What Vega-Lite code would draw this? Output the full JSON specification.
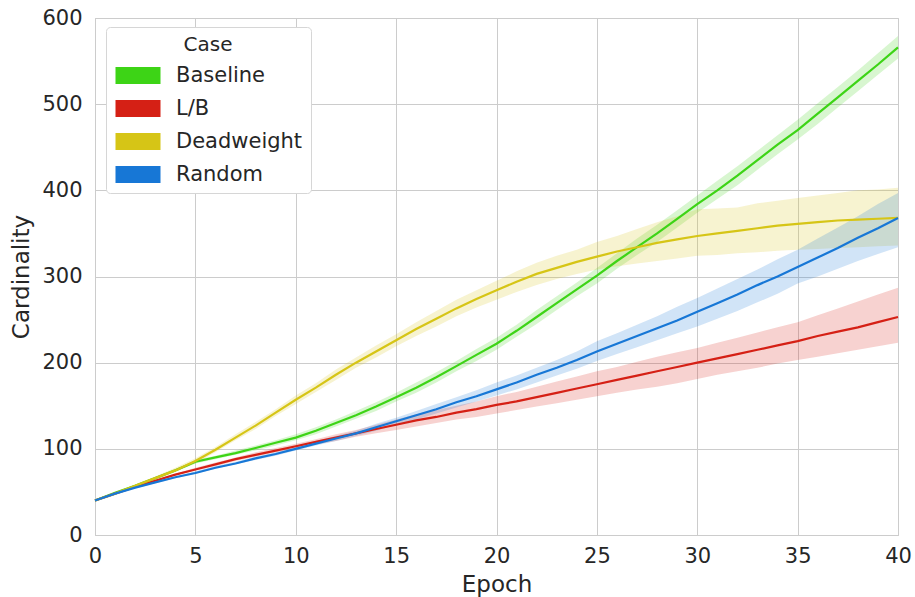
{
  "$schema": "https://vega.github.io/schema/vega-lite/v6.json",
  "width": 803,
  "height": 517,
  "autosize": {"type": "none"},
  "padding": {"left": 95, "top": 18, "right": 17, "bottom": 62},
  "background": "white",
  "config": {
    "font": "DejaVu Sans",
    "view": {"stroke": "#cccccc", "strokeWidth": 1},
    "axis": {
      "grid": true,
      "gridColor": "#cccccc",
      "gridWidth": 1,
      "domainColor": "#cccccc",
      "domainWidth": 1,
      "ticks": false,
      "labelColor": "#262626",
      "labelFontSize": 21,
      "titleColor": "#262626",
      "titleFontSize": 23,
      "titleFontWeight": "normal"
    }
  },
  "data": {
    "values": [
      {"case": "Baseline", "epoch": 0, "mean": 40, "lo": 40, "hi": 40},
      {"case": "Baseline", "epoch": 1, "mean": 49, "lo": 48, "hi": 50},
      {"case": "Baseline", "epoch": 2, "mean": 57, "lo": 56, "hi": 58},
      {"case": "Baseline", "epoch": 3, "mean": 66, "lo": 65, "hi": 67},
      {"case": "Baseline", "epoch": 4, "mean": 75, "lo": 74, "hi": 76},
      {"case": "Baseline", "epoch": 5, "mean": 85, "lo": 83, "hi": 87},
      {"case": "Baseline", "epoch": 6, "mean": 90, "lo": 88, "hi": 92},
      {"case": "Baseline", "epoch": 7, "mean": 95, "lo": 93, "hi": 98},
      {"case": "Baseline", "epoch": 8, "mean": 101, "lo": 98, "hi": 104},
      {"case": "Baseline", "epoch": 9, "mean": 107, "lo": 104, "hi": 110},
      {"case": "Baseline", "epoch": 10, "mean": 113, "lo": 110, "hi": 117},
      {"case": "Baseline", "epoch": 11, "mean": 121, "lo": 117, "hi": 125},
      {"case": "Baseline", "epoch": 12, "mean": 130, "lo": 126, "hi": 134},
      {"case": "Baseline", "epoch": 13, "mean": 139, "lo": 135, "hi": 144},
      {"case": "Baseline", "epoch": 14, "mean": 149, "lo": 144, "hi": 154},
      {"case": "Baseline", "epoch": 15, "mean": 160, "lo": 155, "hi": 165},
      {"case": "Baseline", "epoch": 16, "mean": 171, "lo": 165, "hi": 177},
      {"case": "Baseline", "epoch": 17, "mean": 183, "lo": 177, "hi": 189},
      {"case": "Baseline", "epoch": 18, "mean": 196, "lo": 190, "hi": 202},
      {"case": "Baseline", "epoch": 19, "mean": 209, "lo": 202, "hi": 216},
      {"case": "Baseline", "epoch": 20, "mean": 222, "lo": 215, "hi": 229},
      {"case": "Baseline", "epoch": 21, "mean": 237, "lo": 230, "hi": 244},
      {"case": "Baseline", "epoch": 22, "mean": 253, "lo": 245, "hi": 261},
      {"case": "Baseline", "epoch": 23, "mean": 269, "lo": 261, "hi": 277},
      {"case": "Baseline", "epoch": 24, "mean": 285, "lo": 277, "hi": 293},
      {"case": "Baseline", "epoch": 25, "mean": 301, "lo": 292, "hi": 310},
      {"case": "Baseline", "epoch": 26, "mean": 318, "lo": 309, "hi": 327},
      {"case": "Baseline", "epoch": 27, "mean": 334, "lo": 325, "hi": 344},
      {"case": "Baseline", "epoch": 28, "mean": 350, "lo": 340, "hi": 360},
      {"case": "Baseline", "epoch": 29, "mean": 367, "lo": 357, "hi": 377},
      {"case": "Baseline", "epoch": 30, "mean": 384, "lo": 374, "hi": 394},
      {"case": "Baseline", "epoch": 31, "mean": 400, "lo": 390, "hi": 411},
      {"case": "Baseline", "epoch": 32, "mean": 417, "lo": 406, "hi": 428},
      {"case": "Baseline", "epoch": 33, "mean": 435, "lo": 424, "hi": 446},
      {"case": "Baseline", "epoch": 34, "mean": 453, "lo": 442, "hi": 464},
      {"case": "Baseline", "epoch": 35, "mean": 470, "lo": 459, "hi": 482},
      {"case": "Baseline", "epoch": 36, "mean": 489, "lo": 477, "hi": 501},
      {"case": "Baseline", "epoch": 37, "mean": 508, "lo": 496, "hi": 520},
      {"case": "Baseline", "epoch": 38, "mean": 527, "lo": 515, "hi": 539},
      {"case": "Baseline", "epoch": 39, "mean": 546, "lo": 534, "hi": 559},
      {"case": "Baseline", "epoch": 40, "mean": 566, "lo": 553, "hi": 579},

      {"case": "L/B", "epoch": 0, "mean": 40, "lo": 40, "hi": 40},
      {"case": "L/B", "epoch": 1, "mean": 48, "lo": 47, "hi": 49},
      {"case": "L/B", "epoch": 2, "mean": 56, "lo": 55, "hi": 57},
      {"case": "L/B", "epoch": 3, "mean": 63, "lo": 62, "hi": 64},
      {"case": "L/B", "epoch": 4, "mean": 70, "lo": 69, "hi": 71},
      {"case": "L/B", "epoch": 5, "mean": 76, "lo": 75, "hi": 78},
      {"case": "L/B", "epoch": 6, "mean": 82, "lo": 80, "hi": 84},
      {"case": "L/B", "epoch": 7, "mean": 88, "lo": 86, "hi": 90},
      {"case": "L/B", "epoch": 8, "mean": 93, "lo": 91, "hi": 96},
      {"case": "L/B", "epoch": 9, "mean": 98, "lo": 96, "hi": 101},
      {"case": "L/B", "epoch": 10, "mean": 103, "lo": 100, "hi": 106},
      {"case": "L/B", "epoch": 11, "mean": 108, "lo": 105, "hi": 111},
      {"case": "L/B", "epoch": 12, "mean": 113, "lo": 109, "hi": 117},
      {"case": "L/B", "epoch": 13, "mean": 118, "lo": 114, "hi": 122},
      {"case": "L/B", "epoch": 14, "mean": 123, "lo": 118, "hi": 128},
      {"case": "L/B", "epoch": 15, "mean": 128, "lo": 122, "hi": 134},
      {"case": "L/B", "epoch": 16, "mean": 133, "lo": 126, "hi": 140},
      {"case": "L/B", "epoch": 17, "mean": 137, "lo": 130, "hi": 145},
      {"case": "L/B", "epoch": 18, "mean": 142, "lo": 134, "hi": 150},
      {"case": "L/B", "epoch": 19, "mean": 146, "lo": 137, "hi": 155},
      {"case": "L/B", "epoch": 20, "mean": 151, "lo": 141, "hi": 161},
      {"case": "L/B", "epoch": 21, "mean": 155, "lo": 145, "hi": 166},
      {"case": "L/B", "epoch": 22, "mean": 160, "lo": 149, "hi": 172},
      {"case": "L/B", "epoch": 23, "mean": 165, "lo": 153, "hi": 178},
      {"case": "L/B", "epoch": 24, "mean": 170, "lo": 157, "hi": 184},
      {"case": "L/B", "epoch": 25, "mean": 175, "lo": 161, "hi": 190},
      {"case": "L/B", "epoch": 26, "mean": 180, "lo": 165, "hi": 195},
      {"case": "L/B", "epoch": 27, "mean": 185, "lo": 169, "hi": 201},
      {"case": "L/B", "epoch": 28, "mean": 190, "lo": 172, "hi": 207},
      {"case": "L/B", "epoch": 29, "mean": 195, "lo": 176, "hi": 212},
      {"case": "L/B", "epoch": 30, "mean": 200, "lo": 181, "hi": 217},
      {"case": "L/B", "epoch": 31, "mean": 205, "lo": 186, "hi": 223},
      {"case": "L/B", "epoch": 32, "mean": 210, "lo": 190, "hi": 229},
      {"case": "L/B", "epoch": 33, "mean": 215, "lo": 194, "hi": 235},
      {"case": "L/B", "epoch": 34, "mean": 220, "lo": 199, "hi": 241},
      {"case": "L/B", "epoch": 35, "mean": 225, "lo": 203, "hi": 247},
      {"case": "L/B", "epoch": 36, "mean": 231, "lo": 207, "hi": 255},
      {"case": "L/B", "epoch": 37, "mean": 236, "lo": 211, "hi": 263},
      {"case": "L/B", "epoch": 38, "mean": 241, "lo": 215, "hi": 271},
      {"case": "L/B", "epoch": 39, "mean": 247, "lo": 219, "hi": 279},
      {"case": "L/B", "epoch": 40, "mean": 253, "lo": 223, "hi": 287},

      {"case": "Deadweight", "epoch": 0, "mean": 40, "lo": 40, "hi": 40},
      {"case": "Deadweight", "epoch": 1, "mean": 48, "lo": 47, "hi": 49},
      {"case": "Deadweight", "epoch": 2, "mean": 57, "lo": 56, "hi": 59},
      {"case": "Deadweight", "epoch": 3, "mean": 66, "lo": 64, "hi": 68},
      {"case": "Deadweight", "epoch": 4, "mean": 75, "lo": 73, "hi": 78},
      {"case": "Deadweight", "epoch": 5, "mean": 86, "lo": 83, "hi": 89},
      {"case": "Deadweight", "epoch": 6, "mean": 99, "lo": 96, "hi": 102},
      {"case": "Deadweight", "epoch": 7, "mean": 113, "lo": 110, "hi": 117},
      {"case": "Deadweight", "epoch": 8, "mean": 127, "lo": 123, "hi": 131},
      {"case": "Deadweight", "epoch": 9, "mean": 142, "lo": 138, "hi": 146},
      {"case": "Deadweight", "epoch": 10, "mean": 157, "lo": 152, "hi": 162},
      {"case": "Deadweight", "epoch": 11, "mean": 171, "lo": 166, "hi": 176},
      {"case": "Deadweight", "epoch": 12, "mean": 186, "lo": 180, "hi": 192},
      {"case": "Deadweight", "epoch": 13, "mean": 200, "lo": 194, "hi": 206},
      {"case": "Deadweight", "epoch": 14, "mean": 213, "lo": 206, "hi": 220},
      {"case": "Deadweight", "epoch": 15, "mean": 226, "lo": 219, "hi": 233},
      {"case": "Deadweight", "epoch": 16, "mean": 239, "lo": 231, "hi": 247},
      {"case": "Deadweight", "epoch": 17, "mean": 251, "lo": 242, "hi": 260},
      {"case": "Deadweight", "epoch": 18, "mean": 263, "lo": 254, "hi": 273},
      {"case": "Deadweight", "epoch": 19, "mean": 274, "lo": 264, "hi": 284},
      {"case": "Deadweight", "epoch": 20, "mean": 284, "lo": 273, "hi": 295},
      {"case": "Deadweight", "epoch": 21, "mean": 294, "lo": 282, "hi": 306},
      {"case": "Deadweight", "epoch": 22, "mean": 303, "lo": 290, "hi": 316},
      {"case": "Deadweight", "epoch": 23, "mean": 310, "lo": 297, "hi": 324},
      {"case": "Deadweight", "epoch": 24, "mean": 317, "lo": 303, "hi": 331},
      {"case": "Deadweight", "epoch": 25, "mean": 323, "lo": 308, "hi": 340},
      {"case": "Deadweight", "epoch": 26, "mean": 329, "lo": 312, "hi": 347},
      {"case": "Deadweight", "epoch": 27, "mean": 334, "lo": 315, "hi": 355},
      {"case": "Deadweight", "epoch": 28, "mean": 339, "lo": 318, "hi": 363},
      {"case": "Deadweight", "epoch": 29, "mean": 343, "lo": 321, "hi": 370},
      {"case": "Deadweight", "epoch": 30, "mean": 347, "lo": 324, "hi": 378},
      {"case": "Deadweight", "epoch": 31, "mean": 350, "lo": 325, "hi": 379},
      {"case": "Deadweight", "epoch": 32, "mean": 353, "lo": 327, "hi": 380},
      {"case": "Deadweight", "epoch": 33, "mean": 356, "lo": 328, "hi": 385},
      {"case": "Deadweight", "epoch": 34, "mean": 359, "lo": 330, "hi": 388},
      {"case": "Deadweight", "epoch": 35, "mean": 361, "lo": 331, "hi": 391},
      {"case": "Deadweight", "epoch": 36, "mean": 363, "lo": 332, "hi": 394},
      {"case": "Deadweight", "epoch": 37, "mean": 365, "lo": 333, "hi": 397},
      {"case": "Deadweight", "epoch": 38, "mean": 366, "lo": 334, "hi": 400},
      {"case": "Deadweight", "epoch": 39, "mean": 367, "lo": 335, "hi": 401},
      {"case": "Deadweight", "epoch": 40, "mean": 368, "lo": 336, "hi": 403},

      {"case": "Random", "epoch": 0, "mean": 40, "lo": 40, "hi": 40},
      {"case": "Random", "epoch": 1, "mean": 48, "lo": 47, "hi": 49},
      {"case": "Random", "epoch": 2, "mean": 55, "lo": 54, "hi": 56},
      {"case": "Random", "epoch": 3, "mean": 61, "lo": 60, "hi": 62},
      {"case": "Random", "epoch": 4, "mean": 67, "lo": 66, "hi": 68},
      {"case": "Random", "epoch": 5, "mean": 72, "lo": 71, "hi": 74},
      {"case": "Random", "epoch": 6, "mean": 78, "lo": 77, "hi": 80},
      {"case": "Random", "epoch": 7, "mean": 83, "lo": 82, "hi": 85},
      {"case": "Random", "epoch": 8, "mean": 89, "lo": 87, "hi": 91},
      {"case": "Random", "epoch": 9, "mean": 94, "lo": 92, "hi": 96},
      {"case": "Random", "epoch": 10, "mean": 100, "lo": 98, "hi": 102},
      {"case": "Random", "epoch": 11, "mean": 106, "lo": 104, "hi": 109},
      {"case": "Random", "epoch": 12, "mean": 112, "lo": 109, "hi": 115},
      {"case": "Random", "epoch": 13, "mean": 118, "lo": 115, "hi": 121},
      {"case": "Random", "epoch": 14, "mean": 125, "lo": 121, "hi": 129},
      {"case": "Random", "epoch": 15, "mean": 132, "lo": 128, "hi": 136},
      {"case": "Random", "epoch": 16, "mean": 139, "lo": 134, "hi": 144},
      {"case": "Random", "epoch": 17, "mean": 146, "lo": 141, "hi": 152},
      {"case": "Random", "epoch": 18, "mean": 154, "lo": 148, "hi": 160},
      {"case": "Random", "epoch": 19, "mean": 161, "lo": 155, "hi": 168},
      {"case": "Random", "epoch": 20, "mean": 169, "lo": 162, "hi": 177},
      {"case": "Random", "epoch": 21, "mean": 177, "lo": 169, "hi": 185},
      {"case": "Random", "epoch": 22, "mean": 186, "lo": 177, "hi": 194},
      {"case": "Random", "epoch": 23, "mean": 194, "lo": 185, "hi": 203},
      {"case": "Random", "epoch": 24, "mean": 203, "lo": 193, "hi": 213},
      {"case": "Random", "epoch": 25, "mean": 213, "lo": 202, "hi": 225},
      {"case": "Random", "epoch": 26, "mean": 222, "lo": 210, "hi": 234},
      {"case": "Random", "epoch": 27, "mean": 231, "lo": 218, "hi": 244},
      {"case": "Random", "epoch": 28, "mean": 240, "lo": 226, "hi": 254},
      {"case": "Random", "epoch": 29, "mean": 249, "lo": 234, "hi": 265},
      {"case": "Random", "epoch": 30, "mean": 259, "lo": 242, "hi": 275},
      {"case": "Random", "epoch": 31, "mean": 269, "lo": 251, "hi": 286},
      {"case": "Random", "epoch": 32, "mean": 279, "lo": 260, "hi": 297},
      {"case": "Random", "epoch": 33, "mean": 290, "lo": 270, "hi": 308},
      {"case": "Random", "epoch": 34, "mean": 300, "lo": 280, "hi": 320},
      {"case": "Random", "epoch": 35, "mean": 311, "lo": 292, "hi": 331},
      {"case": "Random", "epoch": 36, "mean": 322, "lo": 300, "hi": 344},
      {"case": "Random", "epoch": 37, "mean": 333, "lo": 309, "hi": 357},
      {"case": "Random", "epoch": 38, "mean": 345, "lo": 318, "hi": 370},
      {"case": "Random", "epoch": 39, "mean": 356, "lo": 326, "hi": 384},
      {"case": "Random", "epoch": 40, "mean": 368, "lo": 334, "hi": 397}
    ]
  },
  "encoding": {
    "x": {
      "field": "epoch",
      "type": "quantitative",
      "title": "Epoch",
      "scale": {"domain": [0, 40], "nice": false, "zero": false},
      "axis": {"values": [0, 5, 10, 15, 20, 25, 30, 35, 40], "labelPadding": 10, "titlePadding": 7, "labelFlush": false}
    }
  },
  "layer": [
    {
      "mark": {"type": "area", "fillOpacity": 0.2},
      "encoding": {
        "y": {
          "field": "lo",
          "type": "quantitative",
          "title": "Cardinality",
          "scale": {"domain": [0, 600], "nice": false},
          "axis": {"values": [0, 100, 200, 300, 400, 500, 600], "labelPadding": 13, "titlePadding": 8}
        },
        "y2": {"field": "hi"},
        "color": {
          "field": "case",
          "type": "nominal",
          "title": "Case",
          "sort": ["Baseline", "L/B", "Deadweight", "Random"],
          "scale": {
            "domain": ["Baseline", "L/B", "Deadweight", "Random"],
            "range": ["#3dd416", "#d52015", "#d6c516", "#1777d6"]
          },
          "legend": {
            "orient": "none",
            "legendX": 11,
            "legendY": 9,
            "fillColor": "white",
            "strokeColor": "#d6d6d6",
            "cornerRadius": 4,
            "padding": 8,
            "titleFontSize": 20,
            "titleFontWeight": "normal",
            "titleColor": "#262626",
            "titleAnchor": "middle",
            "titlePadding": 10,
            "labelFontSize": 21,
            "labelColor": "#262626",
            "symbolType": "M-1,-0.95H4V0.95H-1Z",
            "symbolSize": 324,
            "symbolOpacity": 1,
            "symbolStrokeWidth": 0,
            "labelOffset": 41,
            "rowPadding": 11,
            "encode": {"symbols": {"update": {"opacity": {"value": 1}, "fillOpacity": {"value": 1}}}}
          }
        }
      }
    },
    {
      "mark": {"type": "line", "strokeWidth": 2.2},
      "encoding": {
        "y": {"field": "mean", "type": "quantitative"},
        "color": {"field": "case", "type": "nominal", "legend": null}
      }
    }
  ]
}
